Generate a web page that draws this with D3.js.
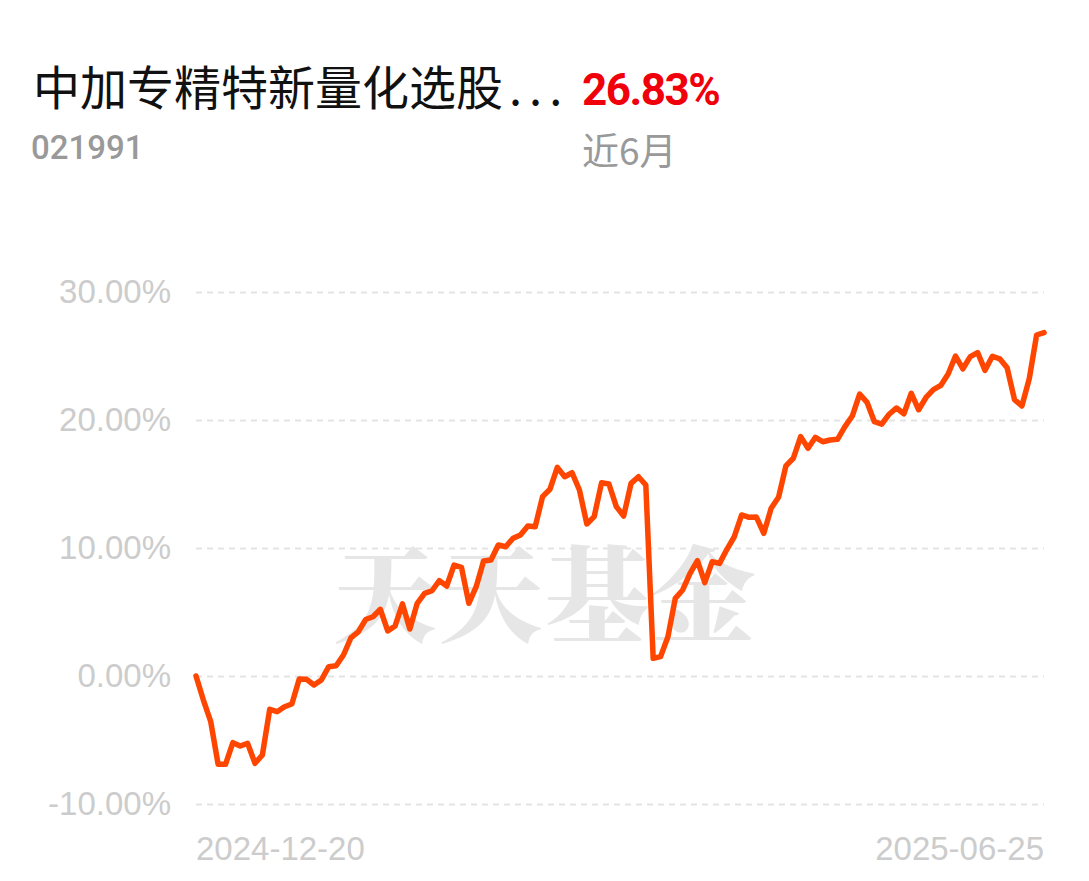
<!DOCTYPE html>
<html>
<head>
<meta charset="utf-8">
<script src="https://cdn.jsdelivr.net/npm/d3@7"></script>
<style>
  html, body { margin: 0; padding: 0; background: #fff; }
  svg { display: block; }
</style>
</head>
<body>
<svg id="chart" width="1089" height="881"></svg>
<script>
// ---- data ----
const fundName = "中加专精特新量化选股...";
const fundCode = "021991";
const periodReturn = "26.83%";
const periodLabel = "近6月";
const watermark = "天天基金";
const xTickLabels = ["2024-12-20", "2025-06-25"];
const yTicks = [-10, 0, 10, 20, 30];
const values = [
  0.00, -1.88, -3.57, -6.90, -6.90, -5.21, -5.47, -5.26, -6.82, -6.17,
  -2.60, -2.79, -2.40, -2.19, -0.23, -0.26, -0.70, -0.31, 0.73, 0.80,
  1.64, 2.97, 3.44, 4.41, 4.63, 5.21, 3.52, 3.91, 5.63, 3.67,
  5.68, 6.46, 6.66, 7.45, 7.03, 8.67, 8.49, 5.68, 6.98, 8.98,
  9.06, 10.23, 10.10, 10.76, 11.02, 11.72, 11.66, 14.01, 14.59, 16.30,
  15.57, 15.88, 14.53, 11.88, 12.45, 15.10, 15.00, 13.23, 12.50, 15.05,
  15.57, 14.92, 1.38, 1.51, 3.07, 6.07, 6.72, 8.02, 9.01, 7.29,
  8.93, 8.80, 9.90, 10.88, 12.58, 12.40, 12.42, 11.15, 13.10, 13.96,
  16.41, 17.01, 18.70, 17.79, 18.65, 18.30, 18.44, 18.49, 19.48, 20.31,
  22.03, 21.38, 19.87, 19.67, 20.45, 20.94, 20.49, 22.09, 20.80, 21.76,
  22.37, 22.70, 23.59, 25.00, 24.00, 24.95, 25.27, 23.88, 24.98, 24.78,
  24.08, 21.59, 21.09, 23.22, 26.64, 26.83
];

// ---- layout ----
const svg = d3.select("#chart");
const plotLeft = 196, plotRight = 1044, plotTop = 292, plotBottom = 804;

const x = d3.scaleLinear().domain([0, values.length - 1]).range([plotLeft, plotRight]);
const y = d3.scaleLinear().domain([-10, 30]).range([plotBottom, plotTop]);

// header
const latin = "Roboto, 'Noto Sans', 'Noto Sans CJK SC', sans-serif";
const cjk = "'Noto Sans CJK SC', 'Noto Sans', sans-serif";
const title = svg.append("text").attr("x", 33).attr("y", 105)
  .attr("font-family", cjk).attr("font-size", 47).attr("fill", "#111");
const dotsIdx = fundName.indexOf("...");
title.append("tspan").text(dotsIdx >= 0 ? fundName.slice(0, dotsIdx) : fundName);
if (dotsIdx >= 0) {
  title.append("tspan").attr("dx", 6).attr("letter-spacing", 7)
    .text(fundName.slice(dotsIdx));
}
svg.append("text").attr("x", 582).attr("y", 105)
  .attr("font-family", latin).attr("font-weight", 700).attr("font-size", 44)
  .attr("fill", "#f0000a").attr("letter-spacing", -1.5)
  .text(periodReturn);
svg.append("text").attr("x", 31).attr("y", 159)
  .attr("font-family", latin).attr("font-weight", 500).attr("font-size", 33)
  .attr("fill", "#999").text(fundCode);
svg.append("text").attr("x", 582).attr("y", 165)
  .attr("font-family", cjk).attr("font-size", 37)
  .attr("fill", "#999").text(periodLabel);

// watermark
svg.append("text").attr("x", 545).attr("y", 634)
  .attr("text-anchor", "middle")
  .attr("font-family", "'Noto Serif CJK SC', 'Noto Sans CJK SC', sans-serif")
  .attr("font-weight", 900).attr("font-size", 104)
  .attr("fill", "#e6e6e6").attr("letter-spacing", 2)
  .text(watermark);

// grid
const grid = svg.append("g").attr("transform", `translate(${plotLeft},0)`)
  .call(d3.axisLeft(y).tickValues(yTicks).tickSize(-(plotRight - plotLeft)).tickFormat(""));
grid.select(".domain").remove();
grid.selectAll(".tick line")
  .attr("stroke", "#e4e4e4").attr("stroke-width", 2).attr("stroke-dasharray", "6,5");

// y labels
const fmt = d => d3.format(".2f")(d).replace("\u2212", "-") + "%";
const yAxis = svg.append("g").attr("transform", `translate(171,0)`)
  .call(d3.axisLeft(y).tickValues(yTicks).tickSize(0).tickPadding(0).tickFormat(fmt));
yAxis.select(".domain").remove();
yAxis.selectAll(".tick text")
  .attr("font-family", "'Liberation Sans', Arial, sans-serif")
  .attr("font-size", 33).attr("fill", "#cccccc");

// x labels
const xLab = d3.scaleOrdinal().domain(xTickLabels).range([0, values.length - 1]);
svg.append("g").selectAll("text").data(xTickLabels).join("text")
  .attr("x", d => x(xLab(d)))
  .attr("y", 860)
  .attr("text-anchor", (d, i) => i === 0 ? "start" : "end")
  .attr("font-family", "'Liberation Sans', Arial, sans-serif")
  .attr("font-size", 33).attr("fill", "#cccccc")
  .text(d => d);

// line
const line = d3.line().x((d, i) => x(i)).y(d => y(d));
svg.append("path").datum(values)
  .attr("d", line)
  .attr("fill", "none")
  .attr("stroke", "#ff4600")
  .attr("stroke-width", 5.5)
  .attr("stroke-linejoin", "round")
  .attr("stroke-linecap", "round");
</script>
</body>
</html>
